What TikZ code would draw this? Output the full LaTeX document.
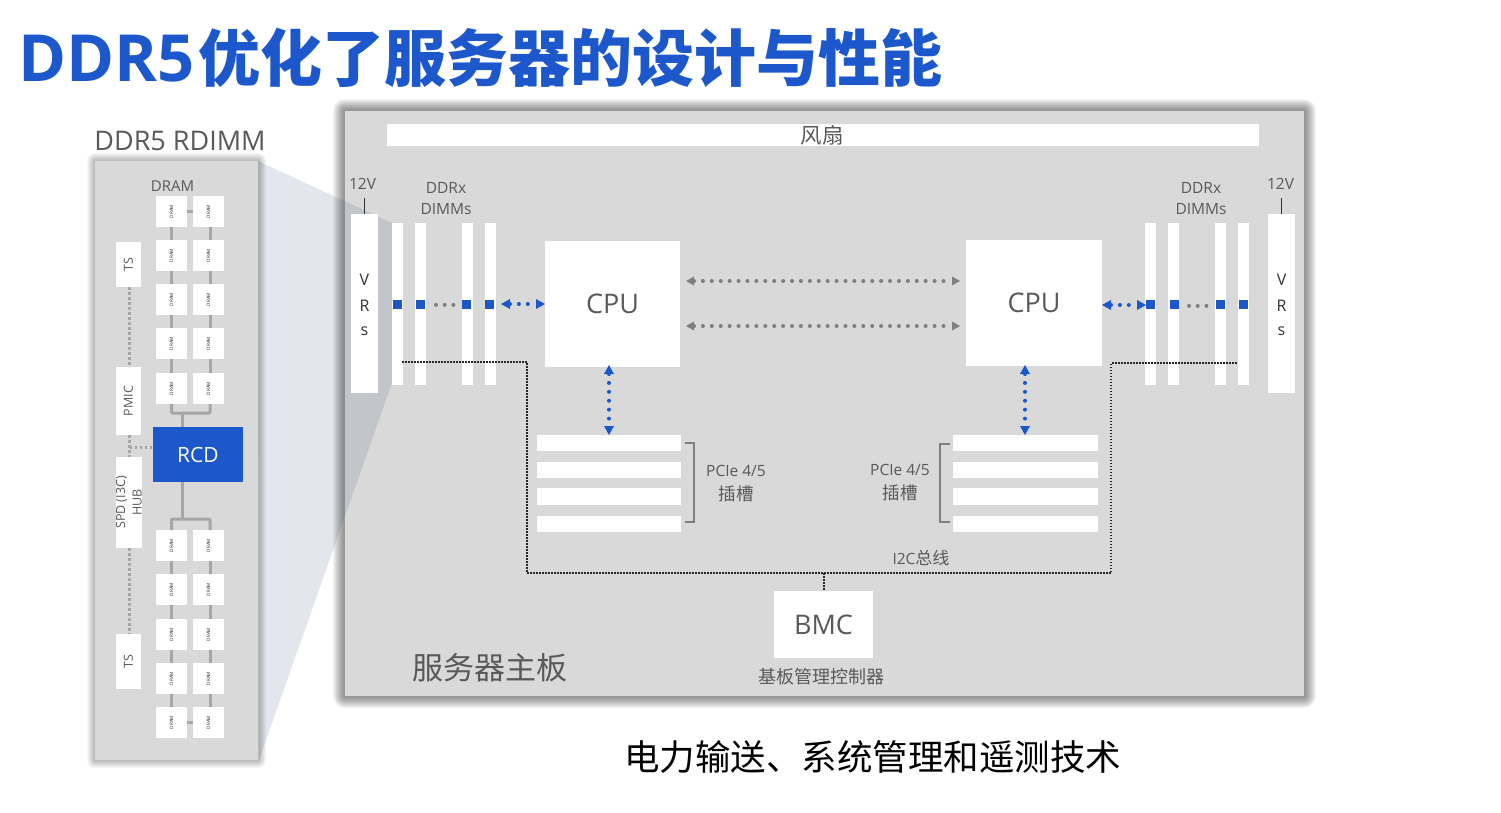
\documentclass[tikz,border=0pt]{standalone}
\usepackage{fontspec}
\setmainfont{Open Sans}
\newfontfamily\cjk{Noto Sans CJK SC}
\usetikzlibrary{arrows.meta}
\definecolor{brand}{HTML}{1C58CC}
\definecolor{panel}{HTML}{D9D9D9}
\definecolor{ink}{HTML}{595959}
\definecolor{trace}{HTML}{A6A6A6}
\definecolor{link}{HTML}{7F7F7F}
\definecolor{zoomfan}{HTML}{1F3864}
\newcommand{\fs}[1]{\fontsize{#1}{#1}\selectfont}
\newcommand{\chiplabel}{\rotatebox{90}{\makebox[0pt]{\color{black!85}\fs{4.6}DRAM}}}
\tikzset{
  x=1pt,y=-1pt,
  base/.style={inner sep=0pt,outer sep=0pt,text=ink,align=center},
  whitebox/.style={base,rectangle,fill=white},
  bluebox/.style={base,rectangle,fill=brand,text=white},
  panelbox/.style={base,rectangle,fill=panel},
  label/.style={base},
  wire/.style={trace,line width=3pt},
  sideband/.style={trace,line width=2.6pt,dash pattern=on 2.6pt off 2.4pt},
  bus/.style={black!85,line width=1.5pt,dash pattern=on 1.5pt off 1.5pt},
  bluelink/.style={brand,line width=4pt,line cap=round,dash pattern=on 0.01pt off 8.9pt,
    {Triangle[length=9pt,width=10pt,line width=0pt]}-{Triangle[length=9pt,width=10pt,line width=0pt]}},
  greylink/.style={link,line width=4pt,line cap=round,dash pattern=on 0.01pt off 8.9pt,
    {Triangle[length=8pt,width=9pt,line width=0pt]}-{Triangle[length=8pt,width=9pt,line width=0pt]}},
  greydots/.style={link,line width=4pt,line cap=round,dash pattern=on 0.01pt off 8.7pt},
  brace/.style={link,line width=1.4pt},
  feed/.style={black!80,line width=1.4pt},
}
% box given by its left, top, right and bottom edges
\newcommand{\rbox}[7]{\node[#6,minimum width={(#4-(#2))*1pt},minimum height={(#5-(#3))*1pt}] (#1) at ({(#2+#4)/2},{(#3+#5)/2}) {#7};}
% soft outer shadow built from stacked translucent rectangles
\newcommand{\softshadow}[6]{%
  \foreach \g in {#6}
    \fill[black,opacity=#5,rounded corners=\g pt] ({#1-\g},{#2-\g}) rectangle ({#3+\g},{#4+\g});}
\begin{document}
\begin{tikzpicture}
\useasboundingbox (0,0) rectangle (1501,812);
\fill[white] (0,0) rectangle (1501,812);

% heading
\node[base,anchor=west,text=brand,font=\bfseries\fs{65}] (title) at (18.5,58) {\makebox[179.5pt][l]{DDR5}{\cjk\fs{62}优化了服务器的设计与性能}};

% main board
\softshadow{345}{111}{1304}{696}{0.045}{12,11,10,9,8,7,6,5,4,3,2}
\rbox{board}{345}{111}{1304}{696}{panelbox}{}

% zoom wedge from the module to the DIMM slots
\coordinate (wa) at (258,161);
\coordinate (wb) at (392,223);
\coordinate (wc) at (392,383);
\coordinate (wd) at (259,760);
\fill[zoomfan,opacity=0.12] (wa) -- (wb) -- (wc) -- (wd) -- cycle;

% memory module
\softshadow{95}{161}{258}{760}{0.035}{8,7,6,5,4,3,2,1}
\rbox{module}{95}{161}{258}{760}{panelbox}{}
\node[label,font=\fs{27}] (modname) at (180,141) {DDR5 RDIMM};
\node[label,font=\fs{15}] (dramname) at (172.5,186) {DRAM};

% DRAM chips, two columns of ten
\foreach \t [count=\i] in {196,240,284,328,373,530,574,619,663,707}{
  \rbox{l\i}{156}{\t}{187}{\t+31}{whitebox}{\chiplabel}
  \rbox{r\i}{193}{\t}{224}{\t+31}{whitebox}{\chiplabel}
}
\rbox{rcd}{153}{427}{243}{482}{bluebox,font=\fs{21}}{\raisebox{-2pt}{RCD}}
\rbox{tsa}{116}{242}{141}{287}{whitebox,font=\fs{12.5}}{\rotatebox{90}{TS}}
\rbox{pmic}{116}{367}{141}{435}{whitebox,font=\fs{12.5}}{\rotatebox{90}{PMIC}}
\rbox{spd}{116}{457}{142}{548}{whitebox,font=\fs{12.5}}{}
\node[label,font=\fs{12.5},rotate=90,align=center] (spdtext) at (129,502.5) {SPD (I3C)\\[4pt]HUB};
\rbox{tsb}{116}{634}{141}{689}{whitebox,font=\fs{12.5}}{\rotatebox{90}{TS}}

% DRAM data traces
\foreach \a/\b in {1/2,2/3,3/4,4/5,6/7,7/8,8/9,9/10}{
  \draw[wire] (l\a.south) -- (l\b.north);
  \draw[wire] ([xshift=1.5pt]r\a.south) -- ([xshift=1.5pt]r\b.north);
}
\draw[wire] (l1.east) -- (r1.west);
\draw[wire] (l10.east) -- (r10.west);
\draw[wire,rounded corners=1pt] (l5.south) |- (182,413) -| ([xshift=1.5pt]r5.south);
\draw[wire] (182,413) -- (182,427);
\draw[wire] (182,482) -- (182,519);
\draw[wire,rounded corners=1pt] (l6.north) |- (182,519) -| ([xshift=1.5pt]r6.north);

% sideband between TS, PMIC, hub and RCD
\draw[sideband] ([xshift=1pt]tsa.south) -- ([xshift=1pt]pmic.north);
\draw[sideband] ([xshift=1pt]pmic.south) -- ([xshift=0.5pt]spd.north);
\draw[sideband] ([xshift=0.5pt]spd.south) -- ([xshift=1pt]tsb.north);
\draw[sideband] (129.5,447.5) -- (rcd.west |- 0,447.5);

% fan strip
\rbox{fan}{387}{124}{1259}{146}{whitebox}{}
\node[label,font=\cjk\fs{21.5}] (fantext) at (822,135) {风扇};

% voltage regulators and their 12 V feeds
\rbox{vrl}{351}{214}{378}{393}{whitebox}{}
\rbox{vrr}{1268}{214}{1295}{393}{whitebox}{}
\foreach \n/\x in {vl/364.5,vr/1281.5}{
  \node[base,text=black!80,font=\fs{16}] (\n a) at (\x,280) {V};
  \node[base,text=black!80,font=\fs{16}] (\n b) at (\x,306) {R};
  \node[base,text=black!80,font=\fs{16}] (\n c) at (\x,331) {s};
}
\node[label,font=\fs{15.5}] (vola) at (362.5,184) {12V};
\node[label,font=\fs{15.5}] (volb) at (1280.5,184) {12V};
\draw[feed] (364.5,198) -- (vrl.north);
\draw[feed] (1281.5,198) -- (vrr.north);

% DIMM slots with their channel markers
\foreach \n/\a/\m in {a/392/393,b/415/416,c/462/462,d/485/485}{
  \rbox{dl\n}{\a}{223}{\a+11}{385}{whitebox}{}
  \rbox{ml\n}{\m}{300}{\m+9}{309}{bluebox}{}
}
\foreach \n/\a/\m in {a/1145/1146,b/1168/1170,c/1215/1216,d/1238/1239}{
  \rbox{dr\n}{\a}{223}{\a+11}{385}{whitebox}{}
  \rbox{mr\n}{\m}{300}{\m+9}{309}{bluebox}{}
}
\node[label,font=\fs{15.5},align=center] (dimmla) at (446,198.5) {DDRx\\[6pt]DIMMs};
\node[label,font=\fs{15.5},align=center] (dimmra) at (1201,198.5) {DDRx\\[6pt]DIMMs};
\coordinate (dotsla) at (436,304.5);
\coordinate (dotslb) at (453.5,304.5);
\coordinate (dotsra) at (1189,305.5);
\coordinate (dotsrb) at (1206.5,305.5);
\draw[greydots] (dotsla) -- (dotslb);
\draw[greydots] (dotsra) -- (dotsrb);

% processors
\rbox{cpul}{545}{241}{680}{367}{whitebox,font=\fs{27}}{\raisebox{-1pt}{CPU}}
\rbox{cpur}{966}{240}{1102}{366}{whitebox,font=\fs{27}}{\raisebox{-1pt}{CPU}}

% PCIe slots
\foreach \n/\y/\z in {a/435/451,b/462/478,c/488/505,d/516/532}{
  \rbox{pl\n}{537}{\y}{681}{\z}{whitebox}{}
  \rbox{pr\n}{953}{\y}{1098}{\z}{whitebox}{}
}
\draw[brace] (685,443) -- (694,443) -- (694,522) -- (685,522);
\draw[brace] (950,444) -- (940,444) -- (940,522) -- (950,522);
\node[label,font=\fs{15.5}] (pciela) at (736,471) {PCIe 4/5};
\node[label,font=\cjk\fs{17.5}] (pcielb) at (736,494) {插槽};
\node[label,font=\fs{15.5}] (pciera) at (900,470) {PCIe 4/5};
\node[label,font=\cjk\fs{17.5}] (pcierb) at (900,493) {插槽};

% management controller
\rbox{bmc}{774}{591}{873}{658}{whitebox,font=\fs{27}}{\raisebox{-1pt}{BMC}}
\node[label,font=\cjk\fs{18}] (bmcname) at (821.5,677) {基板管理控制器};
\node[label,font=\fs{15.5}] (i2c) at (921,558) {I2C{\cjk\fs{17}总线}};
\node[label,font=\cjk\fs{31}] (boardname) at (489.5,668) {服务器主板};

% I2C bus
\coordinate (busl) at (402,362);
\coordinate (busr) at (1237,363);
\coordinate (busj) at (824,573);
\draw[bus] (busl) -| (527,573) -- (1111,573) |- (busr);
\draw[bus] (busj) -- (busj |- bmc.north);

% memory, inter-socket and PCIe links
\draw[bluelink] (mld.east |- 0,304) ++(7,0) -- (cpul.west |- 0,304);
\draw[bluelink] (cpur.east |- 0,305) -- (mra.west |- 0,305);
\draw[greylink] (686,281) -- (960,281);
\draw[greylink] (686,326) -- (960,326);
\draw[bluelink] (609,365) -- (pla.north -| 609,0);
\draw[bluelink] (1025,365) -- (pra.north -| 1025,0);

% closing caption
\node[base,text=black,font=\cjk\fs{35.5}] (caption) at (872.5,757) {电力输送、系统管理和遥测技术};
\end{tikzpicture}
\end{document}
